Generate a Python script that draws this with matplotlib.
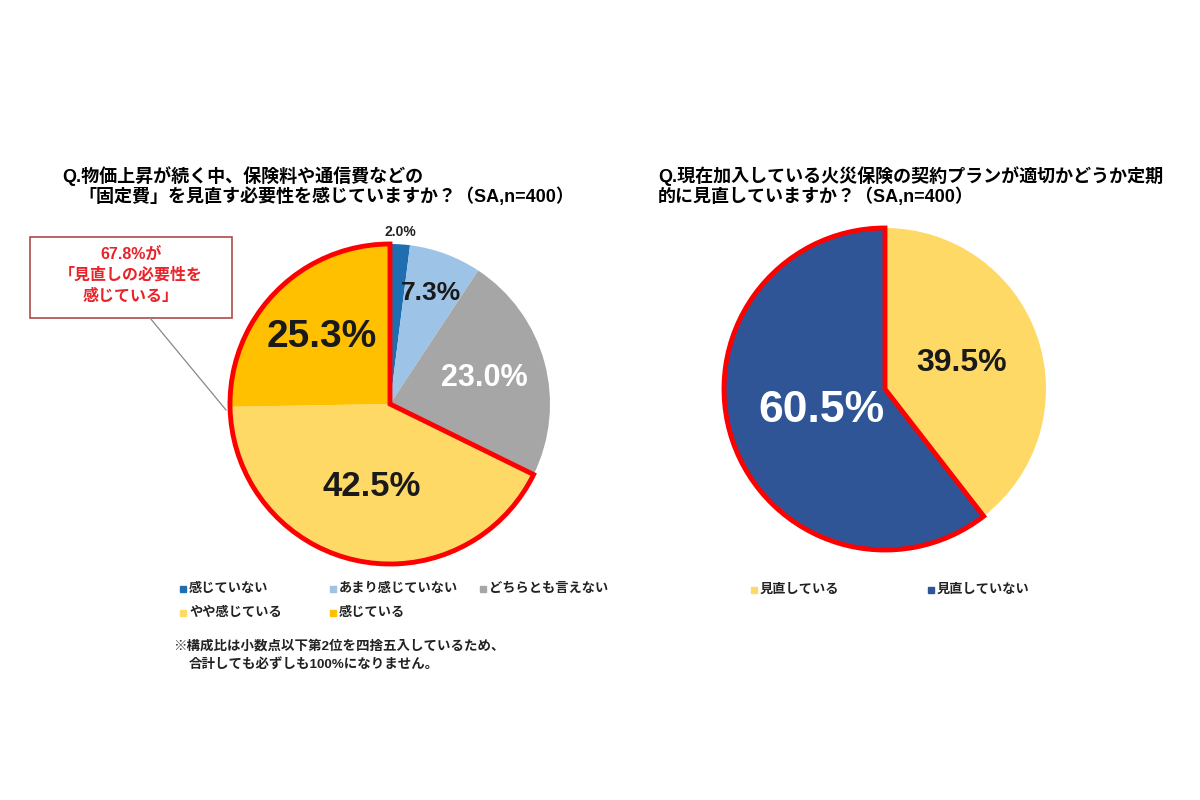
import numpy as np
import matplotlib.pyplot as plt
from matplotlib.patches import Wedge, Rectangle
from matplotlib.lines import Line2D

JP = ['Liberation Sans', 'Noto Sans CJK JP']

left_labels = ['感じていない', 'あまり感じていない', 'どちらとも言えない', 'やや感じている', '感じている']
left_values = [2.0, 7.3, 23.0, 42.5, 25.3]
left_colors = ['#1f6fb0', '#9dc3e6', '#a6a6a6', '#ffd966', '#ffc000']

right_labels = ['見直している', '見直していない']
right_values = [39.5, 60.5]
right_colors = ['#ffd966', '#2f5597']

left_title = ['Q.物価上昇が続く中、保険料や通信費などの',
              '「固定費」を見直す必要性を感じていますか？（SA,n=400）']
right_title = ['Q.現在加入している火災保険の契約プランが適切かどうか定期',
               '的に見直していますか？（SA,n=400）']
callout = ['67.8%が', '「見直しの必要性を', '感じている」']
note = ['※構成比は小数点以下第2位を四捨五入しているため、',
        '合計しても必ずしも100%になりません。']

fig = plt.figure(figsize=(12, 8), dpi=100)
fig.patch.set_facecolor('white')

# overlay in pixel coords for titles / legend / callout
ov = fig.add_axes([0, 0, 1, 1])
ov.set_xlim(0, 1200)
ov.set_ylim(800, 0)
ov.axis('off')


def pie_axes(cx, cy, r):
    w = 2.5 * r
    return fig.add_axes([(cx - w / 2) / 1200, (800 - cy - w / 2) / 800, w / 1200, w / 800])


def put_labels(ax, wedges, values, dists, sizes, tcolors):
    for w, v, d, s, c in zip(wedges, values, dists, sizes, tcolors):
        a = np.deg2rad((w.theta1 + w.theta2) / 2)
        ax.text(d * np.cos(a), d * np.sin(a), f'{v:.1f}%', ha='center', va='center',
                fontsize=s, color=c, fontweight='bold', family=JP)


# left pie
axL = pie_axes(390, 404, 160)
wl, _ = axL.pie(left_values, colors=left_colors, startangle=90, counterclock=False,
                wedgeprops=dict(linewidth=0))
put_labels(axL, wl, left_values, [1.08, 0.74, 0.61, 0.53, 0.6],
           [10, 19, 22, 25, 28], ['#222222', '#1a1a1a', 'white', '#1a1a1a', '#1a1a1a'])
axL.add_patch(Wedge((0, 0), 1, min(wl[3].theta1, wl[4].theta1), max(wl[3].theta2, wl[4].theta2),
                    fill=False, ec='#ff0000', lw=3.5, joinstyle='miter', clip_on=False))

# right pie
axR = pie_axes(885, 389, 161)
wr, _ = axR.pie(right_values, colors=right_colors, startangle=90, counterclock=False,
                wedgeprops=dict(linewidth=0))
put_labels(axR, wr, right_values, [0.5, 0.42], [23, 32], ['#1a1a1a', 'white'])
axR.add_patch(Wedge((0, 0), 1, wr[1].theta1, wr[1].theta2,
                    fill=False, ec='#ff0000', lw=3.5, joinstyle='miter', clip_on=False))

# titles
ov.text(62, 176, left_title[0], fontsize=13, fontweight='bold', family=JP, va='center')
ov.text(78, 197, left_title[1], fontsize=13, fontweight='bold', family=JP, va='center')
ov.text(658, 176, right_title[0], fontsize=13, fontweight='bold', family=JP, va='center')
ov.text(658, 197, right_title[1], fontsize=13, fontweight='bold', family=JP, va='center')

# callout
ov.add_patch(Rectangle((30, 237), 202, 81, fill=False, ec='#b04a4a', lw=1.2))
for i, line in enumerate(callout):
    ov.text(131, 254 + i * 21, line, ha='center', va='center', fontsize=11.5,
            fontweight='bold', color='#e8232a', family=JP)
ov.add_line(Line2D([150, 226], [318, 410], color='#888888', lw=0.9))

# legends
left_pos = [(183, 589), (333, 589), (483, 589), (183, 613), (333, 613)]
for (x, y), lab, c in zip(left_pos, left_labels, left_colors):
    ov.plot(x, y, marker='s', ms=5, color=c, ls='none')
    ov.text(x + 6, y, lab, va='center', fontsize=9.5, fontweight='bold', family=JP, color='#222222')
right_pos = [(754, 590), (931, 590)]
for (x, y), lab, c in zip(right_pos, right_labels, right_colors):
    ov.plot(x, y, marker='s', ms=5, color=c, ls='none')
    ov.text(x + 6, y, lab, va='center', fontsize=9.5, fontweight='bold', family=JP, color='#222222')

# note
ov.text(173, 646, note[0], va='center', fontsize=9.7, fontweight='bold', family=JP, color='#222222')
ov.text(189, 664, note[1], va='center', fontsize=9.7, fontweight='bold', family=JP, color='#222222')

fig.savefig('out.png', dpi=100, facecolor='white')
